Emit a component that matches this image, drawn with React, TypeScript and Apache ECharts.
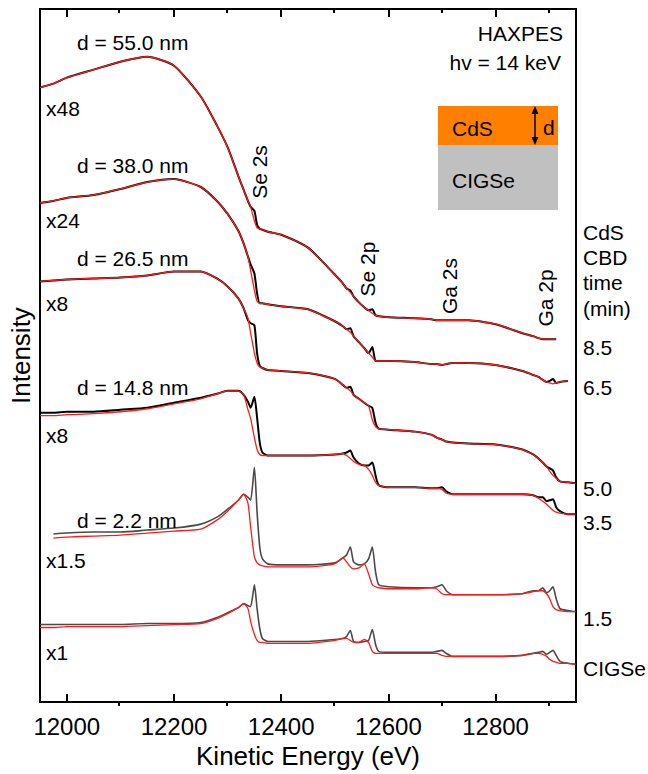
import React, { useEffect, useRef } from "react";
import * as echarts from "echarts";

// Kinetic energy sampling (eV), shared by all spectra
const ENERGY = [
  11950, 11975, 12000, 12050, 12100, 12150, 12200, 12250, 12280, 12300,
  12320, 12330, 12338, 12343, 12350, 12355, 12360, 12365, 12375, 12400,
  12450, 12500, 12515, 12522, 12529, 12535, 12545, 12555, 12563, 12570,
  12576, 12582, 12600, 12650, 12680, 12690, 12700, 12708, 12720, 12750,
  12800, 12850, 12870, 12880, 12888, 12895, 12901, 12907, 12913, 12920,
  12935, 12949,
];

const MAJOR_TICKS = [12000, 12200, 12400, 12600, 12800];
const MINOR_TICKS = [12100, 12300, 12500, 12700, 12900];

// Offset intensities (arb. units), measured (EXP) and simulated (FIT)
// CBD time 8.5 min, d = 55.0 nm, x48
const FIT_85 = [
  618, 622, 628, 636, 644, 649, 640, 609, 580, 558,
  529, 515, 504, 498, 484, 477, 476, 475, 473, 470,
  457, 430, 421, 416, 412, 408, 402, 397, 394, 391,
  389, 388, 387, 386, 385, 384, 384, 384, 384, 384,
  380, 371, 368, 366, 365, 365, 365, 365, 365, null,
  null, null,
];
const EXP_85 = [
  618, 622, 628, 636, 644, 649, 640, 609, 580, 558,
  529, 515, 504, 498, 494, 480, 476, 475, 473, 470,
  457, 430, 421, 416, 414, 408, 402, 397, 394, 395,
  389, 388, 387, 386, 385, 384, 384, 384, 384, 384,
  380, 371, 368, 366, 365, 365, 365, 365, 365, null,
  null, null,
];
// CBD time 6.5 min, d = 38.0 nm, x24
const FIT_65 = [
  502, 504, 507, 510, 516, 523, 526, 518, 504, 491,
  474, 461, 448, 434, 414, 403, 401, 401, 400, 398,
  395, 383, 378, 375, 372, 368, 362, 356, 351, 347,
  343, 343, 343, 342, 340, 340, 339, 340, 341, 341,
  339, 333, 329, 327, 324, 322, 321, 320, 321, 322,
  323, null,
];
const EXP_65 = [
  502, 504, 507, 510, 516, 523, 526, 518, 504, 491,
  474, 461, 448, 440, 431, 411, 401, 401, 400, 398,
  395, 383, 378, 375, 376, 368, 362, 356, 351, 357,
  343, 343, 343, 342, 340, 340, 339, 340, 341, 341,
  339, 333, 329, 327, 324, 322, 323, 325, 321, 322,
  323, null,
];
// CBD time 5.0 min, d = 26.5 nm, x8
const FIT_50 = [
  423, 424, 425, 426, 427, 429, 433, 433, 426, 418,
  406, 396, 386, 371, 351, 341, 337, 336, 334, 333,
  331, 325, 319, 316, 313, 309, 305, 301, 298, 284,
  277, 275, 274, 272, 269, 266, 264, 262, 261, 260,
  259, 254, 249, 245, 241, 237, 232, 228, 225, 222,
  221, 220,
];
const EXP_50 = [
  423, 424, 425, 426, 427, 429, 433, 433, 426, 418,
  406, 396, 384, 381, 379, 351, 338, 336, 334, 333,
  331, 325, 319, 316, 317, 309, 305, 301, 298, 296,
  281, 275, 274, 272, 269, 266, 264, 262, 261, 260,
  259, 254, 249, 245, 241, 237, 235, 233, 226, 222,
  221, 220,
];
// CBD time 3.5 min, d = 14.8 nm, x8
const FIT_35 = [
  288, 288, 289, 290, 292, 295, 300, 305, 310, 313,
  313, 309, 294, 285, 266, 254, 249, 248, 248, 248,
  248, 249, 250, 248, 245, 242, 239, 238, 234, 228,
  221, 218, 216, 216, 215, 215, 214, 210, 209, 209,
  209, 209, 208, 205, 202, 199, 196, 193, 191, 190,
  189, 189,
];
const EXP_35 = [
  291, 291, 292, 292, 294, 296, 301, 306, 310, 313,
  313, 309, 302, 296, 307, 286, 261, 251, 248, 248,
  248, 249, 250, 251, 253, 246, 240, 238, 238, 241,
  228, 218, 216, 216, 215, 215, 216, 212, 209, 209,
  209, 209, 208, 206, 206, 202, 203, 204, 196, 192,
  189, 189,
];
// CBD time 1.5 min, d = 2.2 nm, x1.5
const FIT_15 = [
  null, 165, 166, 167, 168, 170, 172, 174, 183, 192,
  203, 209, 200, 176, 146, 140, 138, 137, 136, 136,
  136, 139, 145, 141, 136, 134, 135, 139, 129, 118,
  116, 115, 114, 114, 115, 114, 109, 108, 108, 108,
  108, 109, 111, 112, 112, 109, 104, 96, 93, 92,
  91, 91,
];
const EXP_15 = [
  null, 169, 170, 171, 171, 173, 175, 179, 186, 194,
  203, 209, 206, 203, 236, 191, 156, 144, 139, 138,
  138, 140, 145, 148, 156, 141, 138, 139, 144, 156,
  131, 118, 116, 115, 115, 116, 118, 112, 108, 108,
  108, 109, 112, 112, 115, 110, 112, 116, 104, 94,
  92, 91,
];
// Bare CIGSe, x1
const FIT_0 = [
  75, 75, 76, 76, 76, 77, 78, 79, 84, 89,
  95, 99, 94, 81, 68, 62, 60, 60, 59, 59,
  59, 62, 64, 64, 62, 60, 60, 63, 60, 51,
  49, 49, 49, 49, 49, 49, 47, 46, 46, 46,
  46, 47, 49, 49, 48, 46, 43, 41, 40, 39,
  39, 38,
];
const EXP_0 = [
  78, 78, 78, 78, 78, 79, 79, 80, 85, 90,
  95, 99, 97, 96, 118, 94, 74, 64, 61, 61,
  61, 63, 64, 66, 72, 61, 60, 61, 62, 73,
  58, 51, 50, 50, 50, 51, 52, 49, 46, 46,
  46, 47, 49, 50, 51, 48, 50, 52, 47, 41,
  39, 38,
];

const SPECTRA = [
  { exp: EXP_85, fit: FIT_85, expColor: "#000000", expWidth: 2 },
  { exp: EXP_65, fit: FIT_65, expColor: "#000000", expWidth: 2 },
  { exp: EXP_50, fit: FIT_50, expColor: "#000000", expWidth: 2 },
  { exp: EXP_35, fit: FIT_35, expColor: "#000000", expWidth: 2 },
  { exp: EXP_15, fit: FIT_15, expColor: "#4a4a4a", expWidth: 1.6 },
  { exp: EXP_0, fit: FIT_0, expColor: "#4a4a4a", expWidth: 1.6 },
];

const FONT = '"Liberation Sans", Arial, Helvetica, sans-serif';

function txt(text: string, x: number, y: number, align = "left", rot = 0, size = 21) {
  return {
    type: "text",
    x,
    y,
    rotation: rot,
    z: 10,
    style: {
      text,
      fill: "#000",
      font: `${size}px ${FONT}`,
      align,
      verticalAlign: "middle",
      textAlign: align,
      textVerticalAlign: "middle",
    },
  };
}

export default function App() {
  const ref = useRef<HTMLDivElement>(null);
  useEffect(() => {
    const chart = echarts.init(ref.current!, null, { renderer: "svg" });
    const pairs = (vals: (number | null)[]) => ENERGY.map((e, i) => [e, vals[i]]);
    const series: any[] = [];
    SPECTRA.forEach((s) => {
      series.push({
        type: "line",
        xAxisIndex: 0,
        yAxisIndex: 0,
        data: pairs(s.exp),
        showSymbol: false,
        symbol: "none",
        smooth: 0.2,
        silent: true,
        z: 2,
        lineStyle: { color: s.expColor, width: s.expWidth },
      });
      series.push({
        type: "line",
        xAxisIndex: 0,
        yAxisIndex: 0,
        data: pairs(s.fit),
        showSymbol: false,
        symbol: "none",
        smooth: 0.2,
        silent: true,
        z: 3,
        lineStyle: { color: "#ff1a1a", width: 1.3 },
      });
    });

    const gridBox = { left: 38, top: 9, width: 538, height: 697 };
    const xBase = { type: "value", min: 11950, max: 12950, splitLine: { show: false } };

    const option: any = {
      animation: false,
      backgroundColor: "#ffffff",
      grid: [
        { ...gridBox, show: true, borderColor: "#000", borderWidth: 2, backgroundColor: "transparent" },
        { ...gridBox, show: false },
      ],
      xAxis: [
        {
          ...xBase,
          gridIndex: 0,
          position: "bottom",
          axisLine: { show: false },
          axisTick: { show: true, inside: true, length: 8, lineStyle: { color: "#000", width: 2 }, customValues: MAJOR_TICKS },
          axisLabel: {
            show: true,
            customValues: MAJOR_TICKS,
            fontSize: 24,
            color: "#000",
            fontFamily: FONT,
            margin: 12,
            formatter: (v: number) => String(v),
          },
          name: "Kinetic Energy (eV)",
          nameLocation: "middle",
          nameGap: 38,
          nameTextStyle: { fontSize: 26, color: "#000", fontFamily: FONT },
        },
        {
          ...xBase,
          gridIndex: 0,
          position: "top",
          axisLine: { show: false },
          axisTick: { show: true, inside: true, length: 8, lineStyle: { color: "#000", width: 2 }, customValues: MAJOR_TICKS },
          axisLabel: { show: false },
        },
        {
          ...xBase,
          gridIndex: 1,
          position: "bottom",
          axisLine: { show: false },
          axisTick: { show: true, inside: true, length: 4, lineStyle: { color: "#000", width: 2 }, customValues: MINOR_TICKS },
          axisLabel: { show: false },
        },
        {
          ...xBase,
          gridIndex: 1,
          position: "top",
          axisLine: { show: false },
          axisTick: { show: true, inside: true, length: 4, lineStyle: { color: "#000", width: 2 }, customValues: MINOR_TICKS },
          axisLabel: { show: false },
        },
      ],
      yAxis: [
        {
          type: "value",
          gridIndex: 0,
          min: 0,
          max: 697,
          axisLine: { show: false },
          axisTick: { show: false },
          axisLabel: { show: false },
          splitLine: { show: false },
          name: "Intensity",
          nameLocation: "middle",
          nameGap: 6,
          nameTextStyle: { fontSize: 26, color: "#000", fontFamily: FONT },
        },
        { type: "value", gridIndex: 1, min: 0, max: 1, show: false },
      ],
      series,
      graphic: {
        elements: [
          txt("HAXPES", 563, 33, "right"),
          txt("hv = 14 keV", 561, 62, "right"),
          { type: "rect", z: 5, shape: { x: 438, y: 106, width: 120, height: 39 }, style: { fill: "#ff8000" } },
          { type: "rect", z: 5, shape: { x: 438, y: 145, width: 120, height: 65 }, style: { fill: "#c0c0c0" } },
          txt("CdS", 452, 128),
          txt("CIGSe", 452, 180),
          { type: "line", z: 6, shape: { x1: 535, y1: 112, x2: 535, y2: 139 }, style: { stroke: "#000", lineWidth: 1.5 } },
          { type: "polygon", z: 6, shape: { points: [[535, 106], [531.5, 114], [538.5, 114]] }, style: { fill: "#000" } },
          { type: "polygon", z: 6, shape: { points: [[535, 145], [531.5, 137], [538.5, 137]] }, style: { fill: "#000" } },
          txt("d", 543, 127),
          txt("d = 55.0 nm", 77, 42),
          txt("d = 38.0 nm", 77, 165),
          txt("d = 26.5 nm", 77, 258),
          txt("d = 14.8 nm", 77, 387),
          txt("d = 2.2 nm", 77, 520),
          txt("x48", 46, 108),
          txt("x24", 46, 220),
          txt("x8", 46, 303),
          txt("x8", 46, 435),
          txt("x1.5", 46, 560),
          txt("x1", 46, 652),
          txt("Se 2s", 259, 172, "center", Math.PI / 2),
          txt("Se 2p", 367, 269, "center", Math.PI / 2),
          txt("Ga 2s", 449, 286, "center", Math.PI / 2),
          txt("Ga 2p", 545, 298, "center", Math.PI / 2),
          txt("CdS", 583, 232),
          txt("CBD", 583, 257),
          txt("time", 583, 282),
          txt("(min)", 583, 308),
          txt("8.5", 583, 347),
          txt("6.5", 583, 387),
          txt("5.0", 583, 488),
          txt("3.5", 583, 522),
          txt("1.5", 583, 618),
          txt("CIGSe", 583, 668),
        ],
      },
    };
    chart.setOption(option);
    return () => chart.dispose();
  }, []);
  return (
    <div
      ref={ref}
      style={{ position: "fixed", left: 0, top: 0, width: 648, height: 774, background: "#fff" }}
    />
  );
}
